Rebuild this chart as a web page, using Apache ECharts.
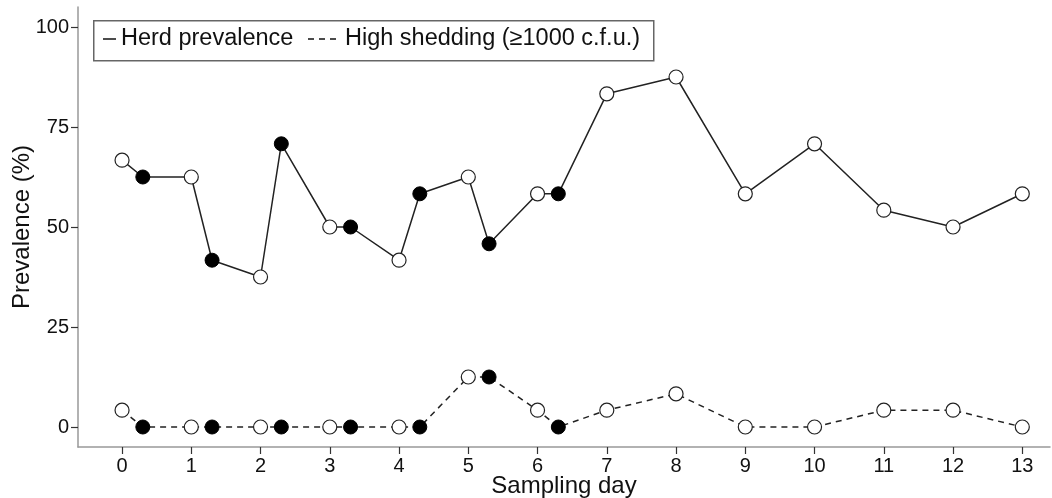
<!DOCTYPE html>
<html>
<head>
<meta charset="utf-8">
<script src="https://cdn.jsdelivr.net/npm/echarts@6/dist/echarts.min.js"></script>
<style>
html,body{margin:0;padding:0;background:#fff;}
#chart{width:1052px;height:498px;}
</style>
</head>
<body>
<div id="chart"></div>
<script>
// Sampling day positions (filled markers are offset by 0.3 day)
var samplingDays = [0, 0.3, 1, 1.3, 2, 2.3, 3, 3.3, 4, 4.3, 5, 5.3, 6, 6.3, 7, 8, 9, 10, 11, 12, 13];
var filledPoint  = [false, true, false, true, false, true, false, true, false, true, false, true, false, true, false, false, false, false, false, false, false];
var herdPrevalence = [66.7, 62.5, 62.5, 41.7, 37.5, 70.8, 50, 50, 41.7, 58.3, 62.5, 45.8, 58.3, 58.3, 83.3, 87.5, 58.3, 70.8, 54.2, 50, 58.3];
var highShedding   = [4.2, 0, 0, 0, 0, 0, 0, 0, 0, 0, 12.5, 12.5, 4.2, 0, 4.2, 8.3, 0, 0, 4.2, 4.2, 0];
var xTickLabels = [0, 1, 2, 3, 4, 5, 6, 7, 8, 9, 10, 11, 12, 13];
var yTickLabels = [0, 25, 50, 75, 100];
var seriesNames = ['Herd prevalence', 'High shedding (\u22651000 c.f.u.)'];

function buildData(vals) {
  return samplingDays.map(function (d, i) {
    return {
      value: [d, vals[i]],
      itemStyle: filledPoint[i]
        ? { color: '#000', borderColor: '#000', borderWidth: 1 }
        : { color: '#fff', borderColor: '#222', borderWidth: 1.2 }
    };
  });
}

var chart = echarts.init(document.getElementById('chart'), null, { renderer: 'canvas' });
var FONT = '"Liberation Sans", Arial, Helvetica, sans-serif';

var option = {
  animation: false,
  backgroundColor: '#fff',
  grid: { left: 78, right: 2, top: 7, bottom: 51, containLabel: false, outerBoundsMode: 'none' },
  xAxis: {
    type: 'value',
    min: -0.636,
    max: 13.4,
    name: 'Sampling day',
    nameLocation: 'middle',
    nameGap: 27,
    nameMoveOverlap: false,
    nameTextStyle: { fontFamily: FONT, fontSize: 24, color: '#111' },
    axisLine: { show: true, onZero: false, lineStyle: { color: '#999', width: 1.5 } },
    axisTick: { show: true, length: 7, customValues: xTickLabels, lineStyle: { color: '#333', width: 1.2 } },
    axisLabel: { customValues: xTickLabels, fontFamily: FONT, fontSize: 20, color: '#111', margin: 9 },
    splitLine: { show: false }
  },
  yAxis: {
    type: 'value',
    min: -5,
    max: 105,
    name: 'Prevalence (%)',
    nameLocation: 'middle',
    nameGap: 44,
    nameMoveOverlap: false,
    nameTextStyle: { fontFamily: FONT, fontSize: 24, color: '#111' },
    axisLine: { show: true, onZero: false, lineStyle: { color: '#999', width: 1.5 } },
    axisTick: { show: true, length: 7, customValues: yTickLabels, lineStyle: { color: '#333', width: 1.2 } },
    axisLabel: { customValues: yTickLabels, fontFamily: FONT, fontSize: 20, color: '#111', margin: 9 },
    splitLine: { show: false }
  },
  graphic: [
    { type: 'rect', left: 93, top: 20, shape: { width: 560, height: 40 }, style: { fill: '#fff', stroke: '#666', lineWidth: 1.5 }, z: 100 },
    { type: 'line', shape: { x1: 103, y1: 39, x2: 116, y2: 39 }, style: { stroke: '#111', lineWidth: 1.5 }, z: 101 },
    { type: 'text', left: 121, top: 27, style: { text: seriesNames[0], font: '23.5px ' + FONT, fill: '#111' }, z: 101 },
    { type: 'line', shape: { x1: 308, y1: 39, x2: 339, y2: 39 }, style: { stroke: '#111', lineWidth: 1.5, lineDash: [6, 5] }, z: 101 },
    { type: 'text', left: 345, top: 27, style: { text: seriesNames[1], font: '23.5px ' + FONT, fill: '#111' }, z: 101 }
  ],
  series: [
    {
      name: seriesNames[0],
      type: 'line',
      data: buildData(herdPrevalence),
      symbol: 'circle',
      symbolSize: 14,
      lineStyle: { color: '#222', width: 1.5, type: 'solid' },
      z: 3
    },
    {
      name: seriesNames[1],
      type: 'line',
      data: buildData(highShedding),
      symbol: 'circle',
      symbolSize: 14,
      lineStyle: { color: '#222', width: 1.5, type: [6, 5] },
      z: 3
    }
  ]
};
chart.setOption(option);
</script>
</body>
</html>
